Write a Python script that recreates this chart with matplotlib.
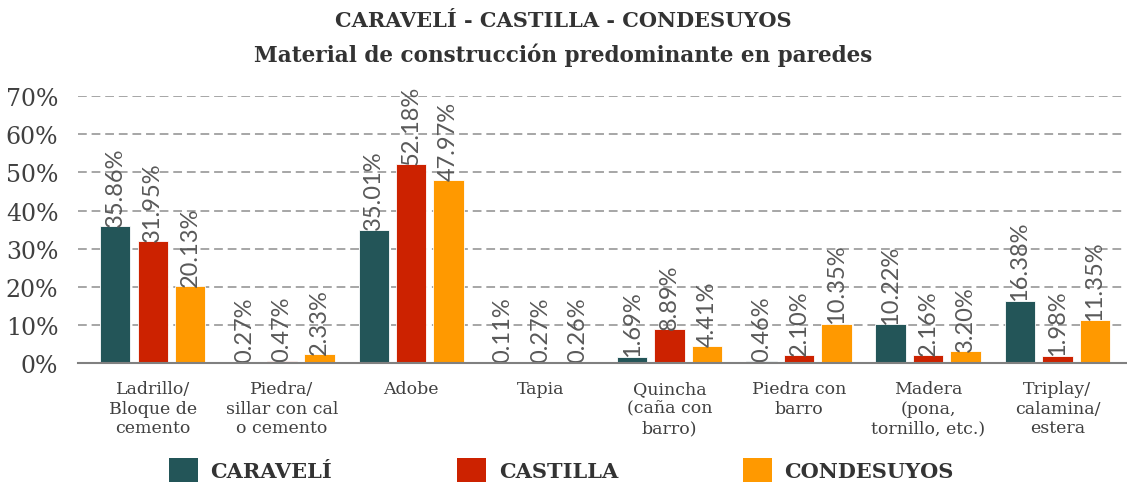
import numpy as np
import matplotlib
matplotlib.use('Agg')
import matplotlib.pyplot as plt
from matplotlib.patches import Patch

categorias = ['Ladrillo/\nBloque de\ncemento', 'Piedra/\nsillar con cal\no cemento', 'Adobe', 'Tapia',
              'Quincha\n(caña con\nbarro)', 'Piedra con\nbarro', 'Madera\n(pona,\ntornillo, etc.)',
              'Triplay/\ncalamina/\nestera']
series = ['CARAVELÍ', 'CASTILLA', 'CONDESUYOS']
caraveli = [35.86, 0.27, 35.01, 0.11, 1.69, 0.46, 10.22, 16.38]
castilla = [31.95, 0.47, 52.18, 0.27, 8.89, 2.10, 2.16, 1.98]
condesuyos = [20.13, 2.33, 47.97, 0.26, 4.41, 10.35, 3.20, 11.35]
yticks = [0, 10, 20, 30, 40, 50, 60, 70]

colores = ['#235558', '#CC2200', '#FF9900']
serif = 'DejaVu Serif'

fig, ax = plt.subplots(figsize=(11.27, 4.85), dpi=100)
fig.subplots_adjust(left=0.069, right=0.999, bottom=0.249, top=0.8)

x = np.arange(len(categorias))
step = 0.29
width = 0.235
for i, (vals, col) in enumerate(zip([caraveli, castilla, condesuyos], colores)):
    pos = x + (i - 1) * step
    ax.bar(pos, vals, width, color=col, edgecolor='white', linewidth=0.6, zorder=3, label=series[i])
    # etiquetas de valor verticales
    for p, v in zip(pos, vals):
        ax.text(p, v + 0.1, f"{v:.2f}%", rotation=90, ha='center', va='bottom',
                fontsize=17, family='Lato', color='#595959', zorder=4)

ax.set_ylim(0, 70)
ax.set_xlim(-0.58, 7.53)
ax.set_yticks(yticks)
ax.set_yticklabels([f"{t}%" for t in yticks], fontsize=17, family=serif, color='#404040')
ax.set_xticks(x)
ax.set_xticklabels(categorias, fontsize=12.5, family=serif, color='#404040', linespacing=1.2)
ax.tick_params(axis='both', length=0)
ax.tick_params(axis='x', pad=12)
ax.tick_params(axis='y', pad=14)
ax.yaxis.grid(True, linestyle=(0, (4.5, 2.5)), color='#A6A6A6', linewidth=1.4, zorder=0)
for s in ['top', 'right', 'left']:
    ax.spines[s].set_visible(False)
ax.spines['bottom'].set_color('#808080')
ax.spines['bottom'].set_linewidth(1.5)
ax.spines['bottom'].set_zorder(5)

fig.text(0.5, 0.957, 'CARAVELÍ - CASTILLA - CONDESUYOS', ha='center', va='center',
         fontsize=15, fontweight='bold', family=serif, color='#333333')
fig.text(0.5, 0.886, 'Material de construcción predominante en paredes', ha='center', va='center',
         fontsize=15.5, fontweight='bold', family=serif, color='#333333')

handles = [Patch(facecolor=c, edgecolor='none') for c in colores]
fig.legend(handles, series, loc='lower center', bbox_to_anchor=(0.498, -0.035), ncol=3,
           frameon=False, handlelength=1.4, handleheight=1.4, handletextpad=0.6,
           columnspacing=6.0, prop={'family': serif, 'weight': 'bold', 'size': 15})
for t in fig.legends[0].get_texts():
    t.set_color('#333333')

plt.savefig('out.png', dpi=100)
plt.close()
